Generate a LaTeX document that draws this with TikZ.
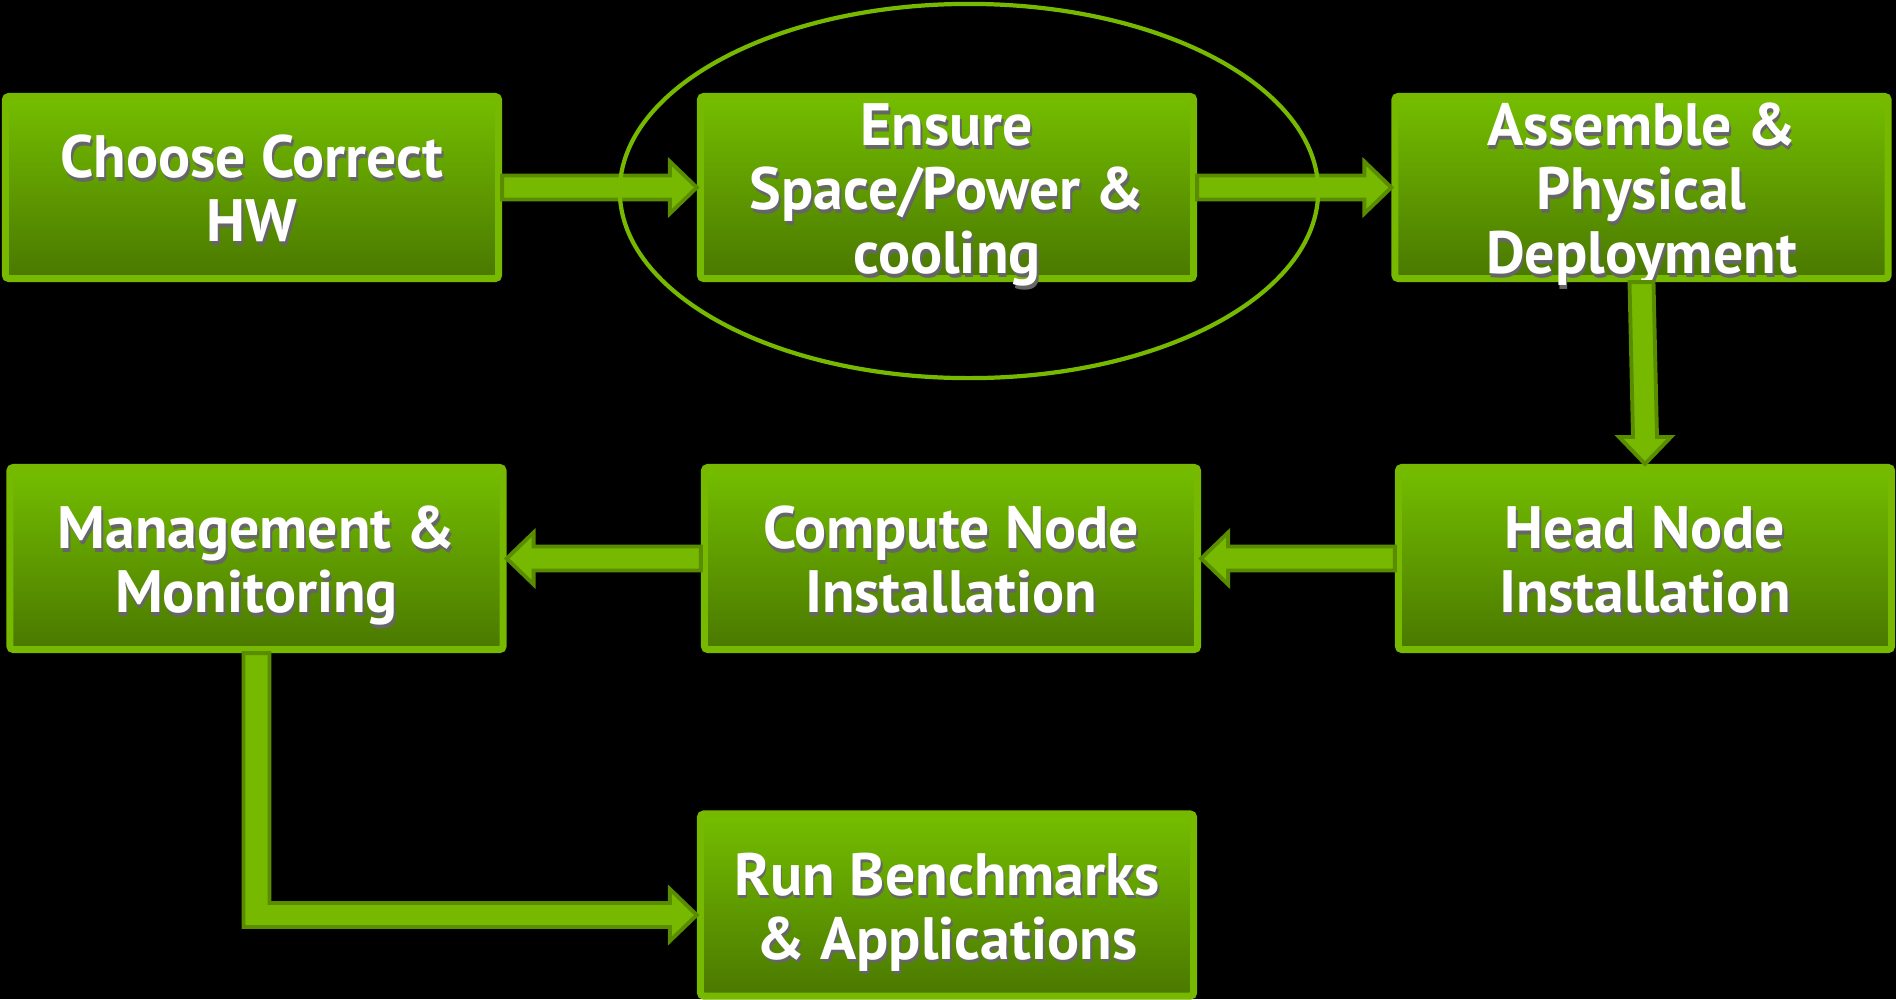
\documentclass[tikz,border=0pt]{standalone}
\usepackage{fontspec}
\setmainfont{PT Sans}
\usetikzlibrary{calc}

\definecolor{nvgreen}{HTML}{76B900}
\definecolor{nvtop}{HTML}{74BE00}
\definecolor{nvbot}{HTML}{4A7800}
\definecolor{nvedge}{HTML}{5A8C00}

% One line of text with a soft drop shadow; fixed line height so all boxes centre alike
\newcommand{\stxt}[1]{\raisebox{0pt}[14pt][1.4pt]{\makebox[0pt]{\raisebox{-1pt}{\hspace{1pt}\textcolor{black!60}{#1}}}\makebox[0pt]{#1}}}

% Block arrows between boxes (sizes in px)
\def\sh{12}		% half width of shaft
\def\hh{26}		% half width of head
\def\hl{27}		% length of head

\newcommand{\rarrow}[2]{\draw [barrow] ($(#1.east) + (0, -\sh)$) -- ($(#2.west) + (-\hl, -\sh)$) -- ($(#2.west) + (-\hl, -\hh)$)
	-- (#2.west) -- ($(#2.west) + (-\hl, \hh)$) -- ($(#2.west) + (-\hl, \sh)$) -- ($(#1.east) + (0, \sh)$) -- cycle;}
\newcommand{\larrow}[2]{\draw [barrow] ($(#1.west) + (0, -\sh)$) -- ($(#2.east) + (\hl, -\sh)$) -- ($(#2.east) + (\hl, -\hh)$)
	-- (#2.east) -- ($(#2.east) + (\hl, \hh)$) -- ($(#2.east) + (\hl, \sh)$) -- ($(#1.west) + (0, \sh)$) -- cycle;}
\newcommand{\darrow}[2]{\draw [barrow] ($(#1.south) + (-\sh, 0)$) -- ($(#2.north) + (-\sh, -\hl)$) -- ($(#2.north) + (-\hh, -\hl)$)
	-- (#2.north) -- ($(#2.north) + (\hh, -\hl)$) -- ($(#2.north) + (\sh, -\hl)$) -- ($(#1.south) + (\sh, 0)$) -- cycle;}

\begin{document}
\begin{tikzpicture}[x = 0.01cm, y = -0.01cm,
	stepbox/.style = {draw = nvgreen, line width = 2pt, rounded corners = 1pt, top color = nvtop, bottom color = nvbot,
		minimum width = 4.93cm, minimum height = 1.82cm, inner sep = 0pt, align = center, text = white,
		font = \fontsize{17pt}{18.2pt}\selectfont\bfseries},
	barrow/.style = {fill = nvgreen, draw = nvedge, line width = 1.1pt, line join = miter}]

	% Background
	
	\fill [black] (0, 0) rectangle (1896, 999);
	\useasboundingbox (0, 0) rectangle (1896, 999);

	% Steps
	
	\foreach \n/\x/\y/\txt in {
		hw/252/187.5/{\stxt{Choose Correct}\\\stxt{HW}},
		space/947/187.5/{\stxt{Ensure}\\\stxt{Space/Power \&}\\\stxt{cooling}},
		deploy/1641.5/187.5/{\stxt{Assemble \&}\\\stxt{Physical}\\\stxt{Deployment}},
		mgmt/256.5/558.5/{\stxt{Management \&}\\\stxt{Monitoring}},
		compute/951/558.5/{\stxt{Compute Node}\\\stxt{Installation}},
		head/1645/558.5/{\stxt{Head Node}\\\stxt{Installation}},
		run/947/905/{\stxt{Run Benchmarks}\\\stxt{\& Applications}}}
		\node [stepbox] (\n) at (\x, \y) {\txt};

	% Arrows
	
	\rarrow{hw}{space}
	\rarrow{space}{deploy}
	\darrow{deploy}{head}
	\larrow{head}{compute}
	\larrow{compute}{mgmt}
	\coordinate (runin) at ($(run.west) + (0, 10)$);
	\draw [barrow] ($(mgmt.south) + (-13, 0)$) |- ($(runin) + (-\hl, \sh)$) -- ($(runin) + (-\hl, \hh)$)
		-- (runin) -- ($(runin) + (-\hl, -\hh)$) -- ($(runin) + (-\hl, -\sh)$) -| ($(mgmt.south) + (13, 0)$) -- cycle;

	% Ring round the second step
	
	\draw [nvgreen, line width = 1.2pt] (969, 191) ellipse [x radius = 3.49cm, y radius = 1.87cm];

\end{tikzpicture}
\end{document}
